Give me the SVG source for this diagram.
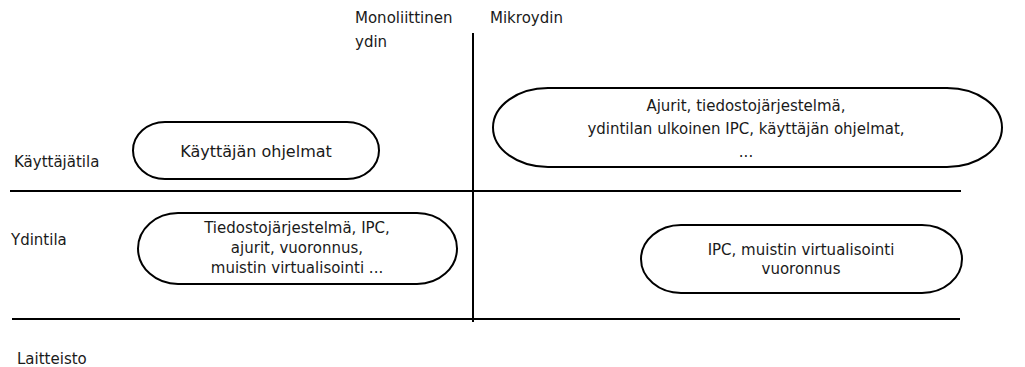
<svg xmlns="http://www.w3.org/2000/svg" width="1025" height="367" viewBox="0 0 1025 367">
<style>
text{font-family:"DejaVu Sans",sans-serif;font-size:15px;fill:#1a1a1a}
.c{text-anchor:middle}
.n{fill:#fff;stroke:#000;stroke-width:2}
.l{stroke:#000;stroke-width:2;fill:none}
</style>
<rect width="1025" height="367" fill="#fff"/>
<g id="connectors">
<line class="l" x1="10" y1="191" x2="961" y2="191"/>
<line class="l" x1="12" y1="319" x2="960" y2="319"/>
<line class="l" x1="473" y1="33" x2="473" y2="322"/>
</g>
<g id="labels">
<text x="14" y="167">Käyttäjätila</text>
<text x="11" y="245">Ydintila</text>
<text x="17" y="364">Laitteisto</text>
<text x="355" y="23">Monoliittinen</text>
<text x="355" y="47">ydin</text>
<text x="490" y="23">Mikroydin</text>
</g>
<g id="n1">
<rect class="n" x="133" y="122" width="246" height="57" rx="32" ry="28.5"/>
<text class="c" x="256" y="157" style="font-size:16px">Käyttäjän ohjelmat</text>
</g>
<g id="n2">
<rect class="n" x="493" y="88" width="509" height="79" rx="55" ry="39.5"/>
<text class="c" x="746" y="111">Ajurit, tiedostojärjestelmä,</text>
<text class="c" x="746" y="134">ydintilan ulkoinen IPC, käyttäjän ohjelmat,</text>
<text class="c" x="746" y="157">...</text>
</g>
<g id="n3">
<rect class="n" x="138" y="213" width="319" height="71" rx="40" ry="35.5"/>
<text class="c" x="297" y="233">Tiedostojärjestelmä, IPC,</text>
<text class="c" x="297" y="253">ajurit, vuoronnus,</text>
<text class="c" x="297" y="273">muistin virtualisointi ...</text>
</g>
<g id="n4">
<rect class="n" x="641" y="225" width="321" height="68" rx="40" ry="34"/>
<text class="c" x="801" y="255">IPC, muistin virtualisointi</text>
<text class="c" x="801" y="274">vuoronnus</text>
</g>
</svg>
